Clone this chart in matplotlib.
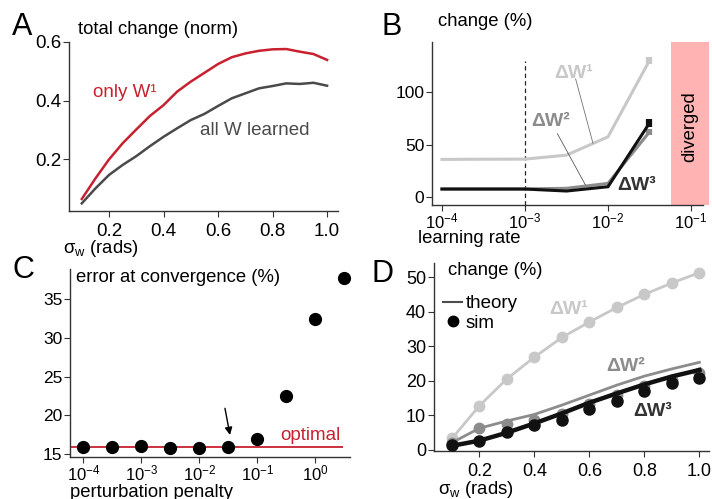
import matplotlib
matplotlib.use("Agg")
import matplotlib.pyplot as plt
import matplotlib.ticker as mticker
from matplotlib.lines import Line2D

plt.rcParams["font.family"] = ["Liberation Sans", "DejaVu Sans"]
plt.rcParams["mathtext.fontset"] = "custom"
plt.rcParams["mathtext.rm"] = "Liberation Sans"
plt.rcParams["mathtext.it"] = "Liberation Sans:italic"
plt.rcParams["mathtext.bf"] = "Liberation Sans:bold"
plt.rcParams["mathtext.default"] = "regular"
plt.rcParams["axes.unicode_minus"] = False

# ---- panel A: total change vs sigma_w
sigma_a = [0.10, 0.15, 0.20, 0.25, 0.30, 0.35, 0.40, 0.45, 0.50, 0.55,
           0.60, 0.65, 0.70, 0.75, 0.80, 0.85, 0.90, 0.95, 1.00]
only_w1 = [0.065, 0.135, 0.200, 0.255, 0.302, 0.348, 0.385, 0.431, 0.465, 0.495,
           0.525, 0.548, 0.561, 0.570, 0.575, 0.576, 0.567, 0.559, 0.539]
all_w = [0.050, 0.101, 0.147, 0.181, 0.211, 0.245, 0.277, 0.306, 0.334, 0.355,
         0.382, 0.408, 0.425, 0.442, 0.450, 0.459, 0.457, 0.461, 0.451]

# ---- panel B: change vs learning rate
learning_rate = [1e-4, 3.16e-4, 1e-3, 3.16e-3, 1e-2, 3.16e-2]
dw1_b = [35.7, 35.9, 36.0, 39.8, 57.3, 130.5]
dw2_b = [7.4, 7.4, 7.4, 8.0, 12.7, 62.0]
dw3_b = [7.3, 7.3, 7.3, 5.4, 9.5, 70.5]
err_last_b = [3.5, 3.0, 3.5]   # error of last point for dW1, dW2, dW3
diverged_range = [0.0575, 0.166]
chosen_lr = 1e-3

# ---- panel C: error at convergence vs perturbation penalty
penalty = [1e-4, 3.16e-4, 1e-3, 3.16e-3, 1e-2, 3.16e-2, 1e-1, 3.16e-1, 1.0, 3.16]
error_conv = [15.95, 15.95, 16.03, 15.82, 15.73, 15.95, 16.9, 22.5, 32.5, 37.8]
optimal = 15.95

# ---- panel D: change vs sigma_w, theory and sim
sigma_d = [0.1, 0.2, 0.3, 0.4, 0.5, 0.6, 0.7, 0.8, 0.9, 1.0]
dw1_theory = [3.3, 12.8, 20.6, 26.9, 32.6, 37.1, 41.3, 45.1, 48.4, 51.4]
dw1_sim = [3.4, 12.8, 20.6, 26.9, 32.7, 37.1, 41.4, 45.1, 48.5, 51.4]
dw2_theory = [2.1, 6.3, 8.4, 10.3, 13.0, 15.9, 18.8, 21.4, 23.5, 25.4]
dw2_sim = [2.1, 6.3, 7.5, 8.7, 10.3, 13.2, 15.9, 18.4, 20.3, 22.4]
dw3_theory = [1.2, 2.7, 5.0, 7.7, 10.6, 13.7, 16.4, 19.0, 21.3, 23.2]
dw3_sim = [1.3, 2.7, 5.3, 7.2, 8.7, 11.8, 14.3, 17.2, 19.5, 20.8]

RED = "#c8202f"
DARK = "#4a4a4a"
LIGHT = "#c8c8c8"
MID = "#8c8c8c"
BLACK = "#111111"
PINK = "#ffb3b3"
FS = 13.3

W, H = 712, 499
fig = plt.figure(figsize=(W / 100, H / 100), dpi=100)


def px_axes(left, top, right, bottom):
    return fig.add_axes([left / W, 1 - bottom / H, (right - left) / W, (bottom - top) / H])


def style(ax, size):
    for s in ["top", "right"]:
        ax.spines[s].set_visible(False)
    for s in ["left", "bottom"]:
        ax.spines[s].set_linewidth(1.0)
        ax.spines[s].set_color("0.2")
    ax.tick_params(length=4.5, width=0.8, color="0.2", pad=1.0, labelsize=size)


def log_x(ax, ticks):
    ax.set_xscale("log")
    ax.set_xticks(ticks)
    ax.xaxis.set_major_formatter(mticker.LogFormatterSciNotation())
    ax.xaxis.set_minor_locator(mticker.NullLocator())
    ax.tick_params(axis="x", pad=0.0, labelsize=12)


def ftext(x, y, s, **kw):
    kw.setdefault("fontsize", FS)
    kw.setdefault("va", "baseline")
    fig.text(x / W, 1 - y / H, s, **kw)


# ---------------- A
ax = px_axes(69, 42, 338, 210.7)
style(ax, 13.5)
ax.plot(sigma_a, only_w1, color=RED, lw=1.8)
ax.plot(sigma_a, all_w, color=DARK, lw=1.8)
ax.set_xlim(0.053, 1.04)
ax.set_ylim(0.025, 0.6)
ax.set_xticks([0.2, 0.4, 0.6, 0.8, 1.0])
ax.set_yticks([0.2, 0.4, 0.6])
ax.tick_params(axis="x", pad=4)
ax.text(0.141, 0.427, "only W¹", color=RED, fontsize=13.5, va="center")
ax.text(0.534, 0.30, "all W learned", color=DARK, fontsize=13.5, va="center")
ftext(12, 35, "A", fontsize=22)
ftext(78, 34, "total change (norm)")
ftext(63, 253, "σ$_\\mathregular{w}$ (rads)")

# ---------------- B
ax = px_axes(432, 42.3, 703, 205)
style(ax, 12.5)
log_x(ax, [1e-4, 1e-3, 1e-2, 1e-1])
ax.axvspan(diverged_range[0], diverged_range[1], color=PINK, lw=0, clip_on=False, zorder=0)
ax.text((diverged_range[0] * diverged_range[1]) ** 0.5, 0.48, "diverged",
        transform=ax.get_xaxis_transform(), rotation=90, ha="center", va="center",
        fontsize=FS)
ax.vlines(chosen_lr, -8, 130, colors="0.15", linestyles=(0, (3.5, 2.5)), lw=0.9)
for vals, col, err in [(dw1_b, LIGHT, err_last_b[0]), (dw2_b, MID, err_last_b[1]),
                       (dw3_b, BLACK, err_last_b[2])]:
    ax.plot(learning_rate, vals, color=col, lw=2.2, solid_joinstyle="miter")
    ax.errorbar(learning_rate[-1:], vals[-1:], yerr=[err], color=col, elinewidth=4.5,
                capsize=0, fmt="none")
ax.set_xlim(10 ** -4.12, 10 ** -0.855)
ax.set_ylim(-8, 148)
ax.set_yticks([0, 50, 100])
ax.text(10 ** -2.41, 118, "ΔW¹", color=LIGHT, fontsize=14, fontweight="bold",
        ha="center", va="center")
ax.annotate("", xy=(10 ** -2.18, 51), xytext=(10 ** -2.39, 113),
            arrowprops=dict(arrowstyle="-", lw=0.6, color="0.45", shrinkA=0, shrinkB=0))
ax.text(10 ** -2.69, 71.6, "ΔW²", color=MID, fontsize=14, fontweight="bold",
        ha="center", va="center")
ax.annotate("", xy=(10 ** -2.27, 11), xytext=(10 ** -2.61, 60.5),
            arrowprops=dict(arrowstyle="-", lw=0.6, color="0.35", shrinkA=0, shrinkB=0))
ax.text(10 ** -1.66, 11, "ΔW³", color="#333333", fontsize=14, fontweight="bold",
        ha="center", va="center")
ftext(381, 35, "B", fontsize=22)
ftext(438, 26, "change (%)")
ftext(418, 243, "learning rate")

# ---------------- C
ax = px_axes(70, 269, 350, 457.3)
style(ax, 12.5)
log_x(ax, [1e-4, 1e-3, 1e-2, 1e-1, 1e0])
ax.set_xlim(10 ** -4.23, 10 ** 0.6)
ax.set_ylim(14.57, 38.9)
ax.hlines(optimal, 10 ** -4.23, 10 ** 0.48, colors=RED, lw=1.3, zorder=1)
ax.plot(penalty, error_conv, "o", color="black", ms=8.5, zorder=3, clip_on=False)
ax.set_yticks([15, 20, 25, 30, 35])
ax.text(10 ** 0.44, 17.45, "optimal", color=RED, fontsize=13.5, ha="right", va="center")
ax.annotate("", xy=(10 ** -1.47, 17.45), xytext=(10 ** -1.557, 20.9),
            arrowprops=dict(arrowstyle="-|>", lw=1.0, color="black", mutation_scale=11,
                            shrinkA=0, shrinkB=0))
ftext(13, 278, "C", fontsize=22)
ftext(76, 282, "error at convergence (%)")
ftext(70, 497, "perturbation penalty")

# ---------------- D
ax = px_axes(433.7, 263, 709, 451)
style(ax, 13)
ax.plot(sigma_d, dw1_theory, color=LIGHT, lw=2.0, zorder=2)
ax.plot(sigma_d, dw1_sim, "o", color=LIGHT, ms=7.5, zorder=2)
ax.plot(sigma_d, dw2_theory, color=MID, lw=2.0, zorder=3)
ax.plot(sigma_d, dw2_sim, "o", color=MID, ms=7.5, zorder=3)
ax.plot(sigma_d, dw3_theory, color=BLACK, lw=3.2, zorder=4)
ax.plot(sigma_d, dw3_sim, "o", color=BLACK, ms=8.0, zorder=5)
ax.set_xlim(0.034, 1.035)
ax.set_ylim(-0.3, 54.2)
ax.set_xticks([0.2, 0.4, 0.6, 0.8, 1.0])
ax.set_yticks([0, 10, 20, 30, 40, 50])
ax.tick_params(axis="x", pad=4)
ax.text(0.523, 40.6, "ΔW¹", color=LIGHT, fontsize=14, fontweight="bold", ha="center", va="center")
ax.text(0.733, 24.1, "ΔW²", color=MID, fontsize=14, fontweight="bold", ha="center", va="center")
ax.text(0.831, 11.1, "ΔW³", color="#333333", fontsize=14, fontweight="bold", ha="center", va="center")
handles = [Line2D([], [], color="0.3", lw=1.5),
           Line2D([], [], color="black", marker="o", ls="none", ms=7.5)]
ax.legend(handles, ["theory", "sim"], loc="upper left", bbox_to_anchor=(0.035, 0.83),
          frameon=False, fontsize=13.5, handlelength=1.0, handletextpad=0.2,
          labelspacing=0.15, borderaxespad=0, borderpad=0)
ftext(371, 282, "D", fontsize=22)
ftext(448, 275, "change (%)")
ftext(438, 494, "σ$_\\mathregular{w}$ (rads)")

fig.savefig("out.png", dpi=100)
